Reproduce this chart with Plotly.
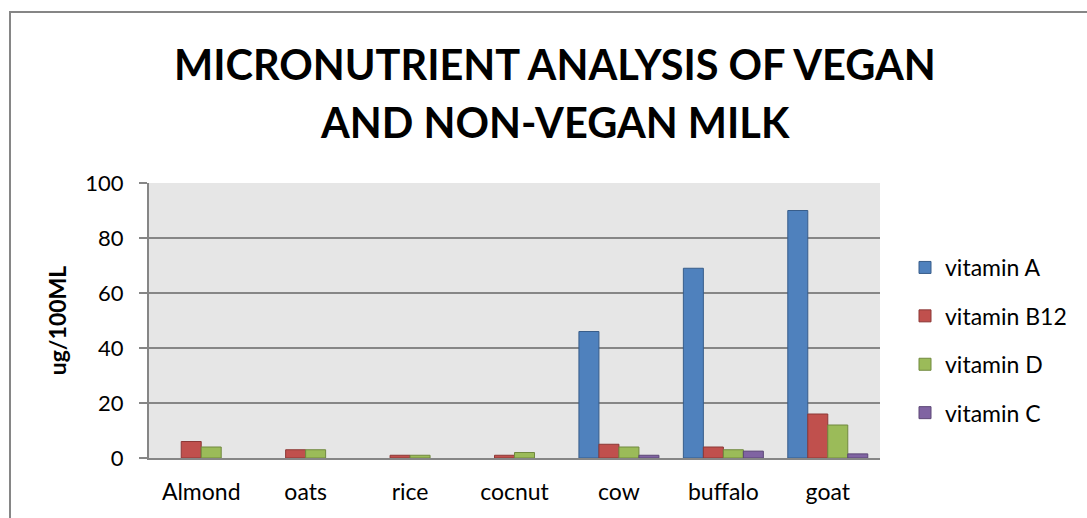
import plotly.graph_objects as go

categories = ["Almond", "oats", "rice", "cocnut", "cow", "buffalo", "goat"]
vitamin_a = [None, None, None, None, 46, 69, 90]
vitamin_b12 = [6, 3, 1, 1, 5, 4, 16]
vitamin_d = [4, 3, 1, 2, 4, 3, 12]
vitamin_c = [None, None, None, None, 1, 2.5, 1.5]

title_lines = ["MICRONUTRIENT ANALYSIS OF VEGAN", "AND NON-VEGAN MILK"]

series = [
    ("vitamin A", vitamin_a, "#4F81BD", "#385D8A"),
    ("vitamin B12", vitamin_b12, "#C0504D", "#8C3836"),
    ("vitamin D", vitamin_d, "#9BBB59", "#71893F"),
    ("vitamin C", vitamin_c, "#8064A2", "#5C4776"),
]

FONT = "Lato, Calibri, Carlito, 'Open Sans', sans-serif"

fig = go.Figure()
for i, (name, vals, col, edge) in enumerate(series):
    fig.add_trace(go.Bar(
        x=categories, y=vals, name=name, legendgroup=name,
        marker=dict(color=col, line=dict(color=edge, width=1)),
    ))

W, H = 1087, 518
L, R, T, B = 149, 880, 183, 458
pw, ph = R - L, B - T

def px(x):
    return (x - L) / pw

def py(y):
    return (B - y) / ph

annotations = []
for line, ycen in zip(title_lines, [64, 122]):
    annotations.append(dict(
        text="<b>%s</b>" % line, xref="paper", yref="paper",
        x=px(555), y=py(ycen), xanchor="center", yanchor="middle",
        showarrow=False, font=dict(size=41.5, family=FONT, color="black"),
    ))

fig.update_layout(
    width=W, height=H,
    margin=dict(l=L, r=W - R, t=T, b=H - B, pad=0),
    paper_bgcolor="white",
    plot_bgcolor="#E6E6E6",
    barmode="group",
    bargap=0.234,
    bargroupgap=0,
    font=dict(family=FONT, color="black"),
    annotations=annotations,
    legend=dict(
        x=px(905), xanchor="left", y=py(246), yanchor="top",
        font=dict(size=23, family=FONT, color="black"),
        tracegroupgap=15.5, itemwidth=30,
        bgcolor="rgba(0,0,0,0)",
    ),
    xaxis=dict(
        showgrid=False, showline=True, linecolor="#868686", linewidth=2,
        tickfont=dict(size=23, family=FONT, color="black"),
        ticks="", ticklabelstandoff=12,
    ),
    yaxis=dict(
        range=[0, 100], dtick=20, showgrid=True, gridcolor="#868686", gridwidth=1.5,
        showline=True, linecolor="#868686", linewidth=2,
        ticks="outside", ticklen=8, tickcolor="#868686", tickwidth=2,
        tickfont=dict(size=22, family=FONT, color="black"),
        ticklabelstandoff=11,
        title=dict(text="<b>ug/100ML</b>", font=dict(size=23, family=FONT, color="black"), standoff=12),
        zeroline=False,
    ),
    shapes=[dict(
        type="rect", xref="paper", yref="paper",
        x0=px(10), x1=px(1100), y0=py(540), y1=py(12),
        line=dict(color="#868686", width=2), fillcolor="rgba(0,0,0,0)", layer="below",
    )],
)

fig.write_html("out.html")
